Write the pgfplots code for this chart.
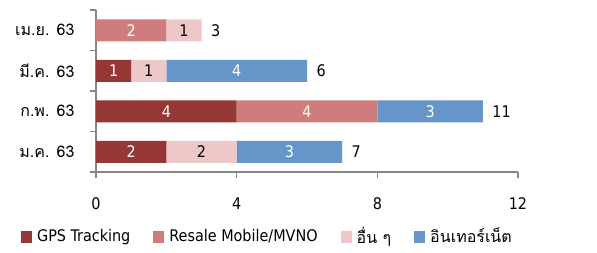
\documentclass[border=0pt]{standalone}
\usepackage{pgfplots}
\pgfplotsset{compat=1.18}
\usepackage{pgfplotstable}
\usepackage{fontspec}
\setmainfont{DejaVu Sans Condensed}
\newfontfamily\thai[Script=Thai]{Loma}
\definecolor{cGPS}{RGB}{149,55,53}
\definecolor{cRes}{RGB}{209,124,124}
\definecolor{cOth}{RGB}{238,200,200}
\definecolor{cNet}{RGB}{102,149,201}
\definecolor{axgray}{RGB}{134,134,134}
\pgfplotstableread{
idx gps res oth net total
0 2 0 2 3 7
1 4 4 0 3 11
2 1 0 1 4 6
3 0 2 1 0 3
}\data
\pgfplotsset{seglabel/.style={
  nodes near coords={\pgfmathfloatifflags{\pgfplotspointmeta}{0}{}{\pgfmathprintnumber{\pgfplotspointmeta}}},
  point meta=explicit,
  every node near coord/.append style={anchor=center, text=#1},
},
common/.style={
  at={(0,0)}, anchor=south west,
  scale only axis, width=422pt, height=162pt,
  xmin=0, xmax=12, ymin=-0.5, ymax=3.5,
  /pgf/number format/assume math mode=true,
  font=\fontsize{16}{18}\selectfont,
}}
\begin{document}
\fontsize{16}{18}\selectfont
\begin{tikzpicture}
\useasboundingbox (-96pt,-80pt) rectangle (501pt,172pt);
\begin{axis}[
  common,
  xbar stacked, bar width=22pt,
  xtick={0,4,8,12},
  ytick={-0.5,0.5,1.5,2.5,3.5}, yticklabels={},
  extra y ticks={0,1,2,3},
  extra y tick labels={{\thai ม.ค. 63}, {\thai ก.พ. 63}, {\thai มี.ค. 63}, {\thai เม.ย. 63}},
  extra y tick style={major tick length=0pt},
  axis lines*=left,
  axis line style={-, axgray, line width=1.2pt},
  tick style={axgray, line width=1.2pt},
  tick align=outside, major tick length=6pt,
  xticklabel style={yshift=-14pt},
  yticklabel style={xshift=-16pt},
  tick label style={font=\fontsize{16}{18}\selectfont},
  legend style={at={(-0.185,-0.40)}, anchor=west, draw=none, fill=none,
    legend columns=4, font=\fontsize{16}{18}\selectfont,
    /tikz/every even column/.append style={column sep=18pt},
    /tikz/every odd column/.append style={column sep=0pt},
    nodes={inner xsep=5pt}},
  legend image code/.code={\fill[#1,draw=none] (0pt,-6pt) rectangle (11pt,6pt);},
]
\addplot[fill=cGPS, draw=none, seglabel=white] table[y=idx, x=gps, meta=gps] {\data};
\addlegendentry{GPS Tracking}
\addplot[fill=cRes, draw=none, seglabel=white] table[y=idx, x=res, meta=res] {\data};
\addlegendentry{Resale Mobile/MVNO}
\addplot[fill=cOth, draw=none, seglabel=black] table[y=idx, x=oth, meta=oth] {\data};
\addlegendentry{\thai อื่น ๆ}
\addplot[fill=cNet, draw=none, seglabel=white] table[y=idx, x=net, meta=net] {\data};
\addlegendentry{\thai อินเทอร์เน็ต}
\end{axis}
\begin{axis}[common, hide axis]
\addplot[draw=none, mark=none, nodes near coords, point meta=explicit,
  every node near coord/.append style={anchor=west, text=black, xshift=4pt}] table[y=idx, x=total, meta=total] {\data};
\end{axis}
\end{tikzpicture}
\end{document}
